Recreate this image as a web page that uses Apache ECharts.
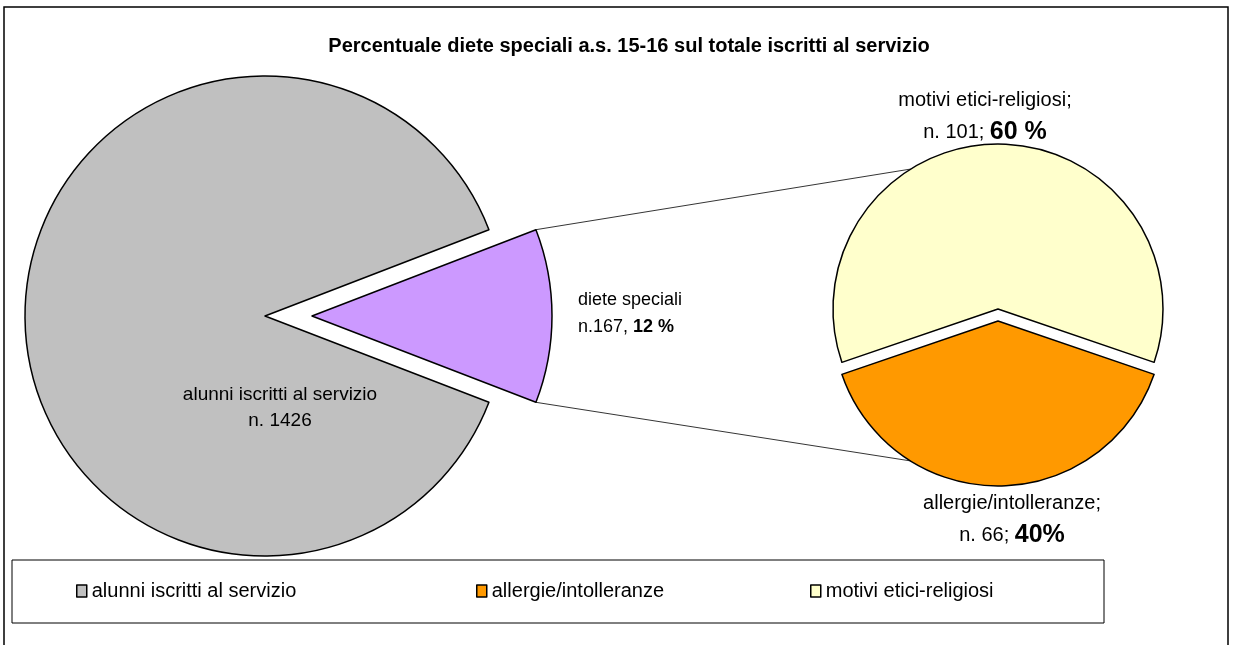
<!DOCTYPE html>
<html>
<head>
<meta charset="utf-8">
<script src="https://cdn.jsdelivr.net/npm/echarts@6/dist/echarts.min.js"></script>
<style>html,body{margin:0;padding:0;background:#fff}</style>
</head>
<body>
<div id="chart" style="width:1233px;height:645px;"></div>
<script>
// values
const iscritti = 1426
const diete = 167
const mainNames = ['diete speciali', 'alunni iscritti al servizio']
const mainColors = ['#CC99FF', '#C0C0C0']
const subNames = ['motivi etici-religiosi', 'allergie/intolleranze']
const subValues = [101, 66]
const subColors = ['#FFFFCC', '#FF9900']
const legendNames = ['alunni iscritti al servizio', 'allergie/intolleranze', 'motivi etici-religiosi']
const legendColors = ['#C0C0C0', '#FF9900', '#FFFFCC']

const FONT = '"Liberation Sans", Arial, sans-serif'
const leftC = [265, 316], leftR = 240, leftOff = 47
const rightC = [998, 315], rightR = 165, rightOff = 6
const half = 180 * diete / iscritti   // half angle of the exploded slice
const subStart = 90 + 180 * subValues[0] / (subValues[0] + subValues[1])
const rad = d => d * Math.PI / 180

const chart = echarts.init(document.getElementById('chart'))

// connector lines from the exploded slice to the second pie
const up = [leftC[0] + leftOff + leftR * Math.cos(rad(half)), leftC[1] - leftR * Math.sin(rad(half))]
const dn = [up[0], leftC[1] + leftR * Math.sin(rad(half))]
const upR = [rightC[0] + rightR * Math.cos(rad(122)), rightC[1] - rightR * Math.sin(rad(122)) - rightOff]
const dnR = [rightC[0] + rightR * Math.cos(rad(238)), rightC[1] - rightR * Math.sin(rad(238)) + rightOff]

const edge = { borderColor: '#000', borderWidth: 1.5 }

// one series per visible slice, so each can be pulled out of its pie
function slicePie(center, radius, start, names, values, colors, show, label, layout) {
  return {
    type: 'pie', center, radius, startAngle: start, clockwise: true,
    percentPrecision: 0, emphasis: { disabled: true }, silent: true,
    labelLine: { show: false },
    label: Object.assign({ position: 'inside', color: '#000', fontFamily: FONT }, label),
    labelLayout: layout,
    data: names.map((n, i) => i === show
      ? { name: n, value: values[i], itemStyle: Object.assign({ color: colors[i] }, edge) }
      : { name: n, value: values[i], itemStyle: { color: 'rgba(0,0,0,0)', borderWidth: 0 }, label: { show: false } })
  }
}

const mainValues = [diete, iscritti - diete]
const subLabel = {
  fontSize: 20, lineHeight: 32,
  formatter: p => p.name + ';\nn. ' + p.value + '; {b|' + p.percent + (p.dataIndex === 0 ? ' %' : '%') + '}',
  rich: { b: { fontWeight: 'bold', fontSize: 25, fontFamily: FONT, color: '#000' } }
}

chart.setOption({
  animation: false,
  textStyle: { fontFamily: FONT },
  title: {
    text: 'Percentuale diete speciali a.s. 15-16 sul totale iscritti al servizio',
    left: 624, top: 31, textAlign: 'center',
    textStyle: { fontSize: 20, fontWeight: 'bold', color: '#000', fontFamily: FONT }
  },
  graphic: [
    { type: 'rect', shape: { x: 4, y: 7, width: 1224, height: 660 }, style: { fill: 'none', stroke: '#000', lineWidth: 1.5 }, z: -1 },
    { type: 'rect', shape: { x: 12, y: 560, width: 1092, height: 63 }, style: { fill: '#fff', stroke: '#000', lineWidth: 1 }, z: -1 },
    { type: 'line', shape: { x1: up[0], y1: up[1], x2: upR[0], y2: upR[1] }, style: { stroke: '#000', lineWidth: 0.8 } },
    { type: 'line', shape: { x1: dn[0], y1: dn[1], x2: dnR[0], y2: dnR[1] }, style: { stroke: '#000', lineWidth: 0.8 } }
  ],
  legend: legendNames.map((n, i) => ({
    data: [{ name: n, itemStyle: { color: legendColors[i], borderColor: '#000', borderWidth: 1.5 } }],
    left: [76, 476, 810][i], top: 581, padding: 0,
    itemWidth: 10, itemHeight: 12, icon: 'rect', selectedMode: false,
    textStyle: { fontSize: 20, color: '#000', fontFamily: FONT }
  })),
  series: [
    // grey: the rest of the pupils
    slicePie(leftC, leftR, half, mainNames, mainValues, mainColors, 1,
      { fontSize: 19, lineHeight: 26, formatter: p => p.name + '\nn. ' + iscritti },
      () => ({ x: 280, y: 408, align: 'center', verticalAlign: 'middle' })),
    // purple: special diets, pulled out to the right
    slicePie([leftC[0] + leftOff, leftC[1]], leftR, half, mainNames, mainValues, mainColors, 0,
      { fontSize: 18, lineHeight: 27,
        formatter: p => p.name + '\nn.' + p.value + ', {b|' + p.percent + ' %}',
        rich: { b: { fontWeight: 'bold', fontSize: 18, fontFamily: FONT, color: '#000' } } },
      () => ({ x: 578, y: 314, align: 'left', verticalAlign: 'middle' })),
    // second pie: yellow up, orange down
    slicePie([rightC[0], rightC[1] - rightOff], rightR, subStart, subNames, subValues, subColors, 0, subLabel,
      () => ({ x: 985, y: 116, align: 'center', verticalAlign: 'middle' })),
    slicePie([rightC[0], rightC[1] + rightOff], rightR, subStart, subNames, subValues, subColors, 1, subLabel,
      () => ({ x: 1012, y: 519, align: 'center', verticalAlign: 'middle' }))
  ]
})
</script>
</body>
</html>
